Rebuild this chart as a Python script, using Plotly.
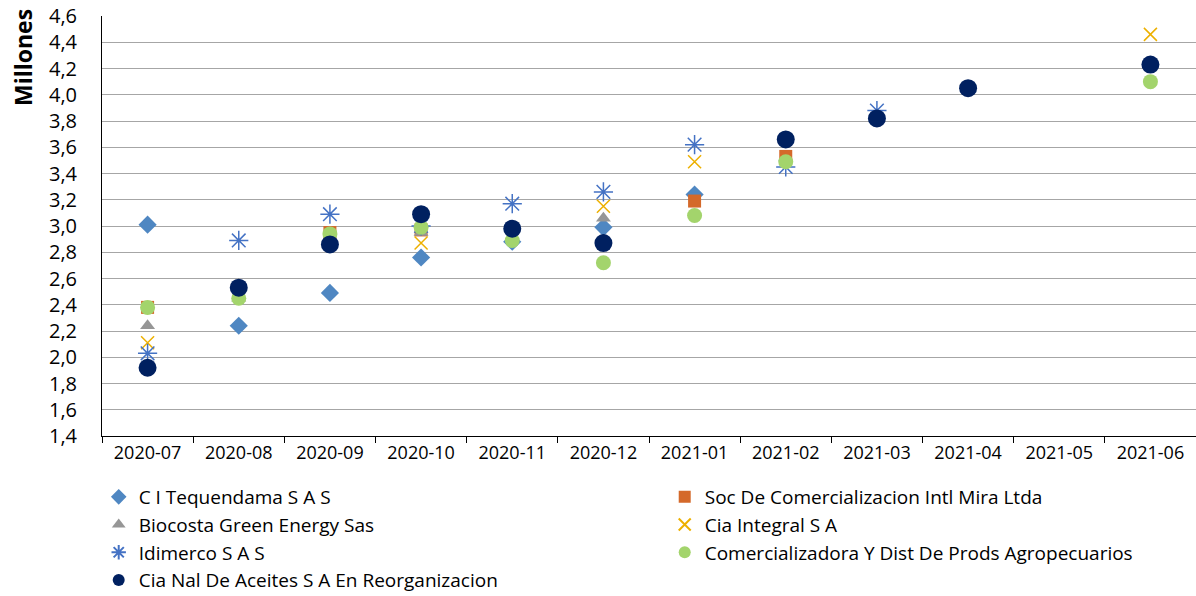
import plotly.graph_objects as go

months = ["2020-07", "2020-08", "2020-09", "2020-10", "2020-11", "2020-12",
          "2021-01", "2021-02", "2021-03", "2021-04", "2021-05", "2021-06"]

tequendama = [3.01, 2.24, 2.49, 2.76, 2.88, 2.99, 3.24, None, None, None, None, None]
soc_mira = [2.38, None, 2.95, 2.97, None, None, 3.19, 3.53, None, None, None, None]
biocosta = [2.24, 2.45, None, 2.95, None, 3.06, None, None, None, None, None, None]
cia_integral = [2.11, None, None, 2.87, None, 3.15, 3.49, None, None, None, None, 4.46]
idimerco = [2.03, 2.89, 3.09, 3.00, 3.17, 3.26, 3.62, 3.45, 3.88, None, None, None]
comercializadora = [2.38, 2.45, 2.94, 2.99, 2.89, 2.72, 3.08, 3.49, None, None, None, 4.10]
cia_nal = [1.92, 2.53, 2.86, 3.09, 2.98, 2.87, None, 3.66, 3.82, 4.05, None, 4.23]

y_ticks = [1.4, 1.6, 1.8, 2.0, 2.2, 2.4, 2.6, 2.8, 3.0, 3.2, 3.4, 3.6, 3.8, 4.0, 4.2, 4.4, 4.6]

series = [
    ("C I Tequendama S A S", tequendama, "diamond", "#4F87C2", 14, 0),
    ("Soc De Comercializacion Intl Mira Ltda", soc_mira, "square", "#D4692A", 13, 0),
    ("Biocosta Green Energy Sas", biocosta, "triangle-up", "#969696", 13, 0),
    ("Cia Integral S A", cia_integral, "x-thin-open", "#EDB000", 13, 1.5),
    ("Idimerco S A S", idimerco, "asterisk-open", "#4472C4", 16, 1.5),
    ("Comercializadora Y Dist De Prods Agropecuarios", comercializadora, "circle", "#A3D46C", 15, 0),
    ("Cia Nal De Aceites S A En Reorganizacion", cia_nal, "circle", "#002060", 18, 0),
]

fig = go.Figure()
for name, vals, sym, col, size, lw in series:
    fig.add_trace(go.Scatter(
        x=months, y=vals, name=name, mode="markers",
        marker=dict(symbol=sym, color=col, size=size,
                    line=dict(color=col, width=lw)),
    ))

font_family = "Open Sans, Noto Sans, sans-serif"
fig.update_layout(
    width=1196, height=596,
    margin=dict(l=102, r=0, t=16, b=160, autoexpand=False),
    paper_bgcolor="white", plot_bgcolor="white",
    separators=",.",
    font=dict(family=font_family, color="#000000"),
    showlegend=True,
    legend=dict(
        orientation="h", x=-0.003, xanchor="left", y=-0.100, yanchor="top",
        entrywidth=521, entrywidthmode="pixels",
        font=dict(size=19, family=font_family, color="#000000"),
        itemsizing="constant", tracegroupgap=0,
        traceorder="normal",
    ),
    xaxis=dict(
        type="category", categoryorder="array", categoryarray=months,
        range=[-0.5, 11.5],
        showgrid=False, showline=True, linecolor="#000000", linewidth=1,
        ticks="outside", tickson="boundaries", ticklen=6, tickcolor="#000000",
        tickfont=dict(size=18, family=font_family),
        zeroline=False, automargin=False,
    ),
    yaxis=dict(
        range=[1.4, 4.6], tickvals=y_ticks, tickformat=".1f",
        showgrid=True, gridcolor="#A6A6A6", gridwidth=1,
        showline=True, linecolor="#000000", linewidth=1,
        ticks="", ticklabelstandoff=20, ticklabeloverflow="allow",
        tickfont=dict(size=20, family=font_family),
        zeroline=False, automargin=False,
    ),
    annotations=[dict(
        text="<b>Millones</b>", textangle=-90,
        xref="paper", yref="paper", x=-0.0722, y=0.9,
        xanchor="center", yanchor="middle", showarrow=False,
        font=dict(size=23, family=font_family, color="#000000"),
    )],
)

fig.write_html("out.html",
               config={"displayModeBar": False},
               post_script="document.body.style.margin='0';document.body.style.overflow='hidden';")
